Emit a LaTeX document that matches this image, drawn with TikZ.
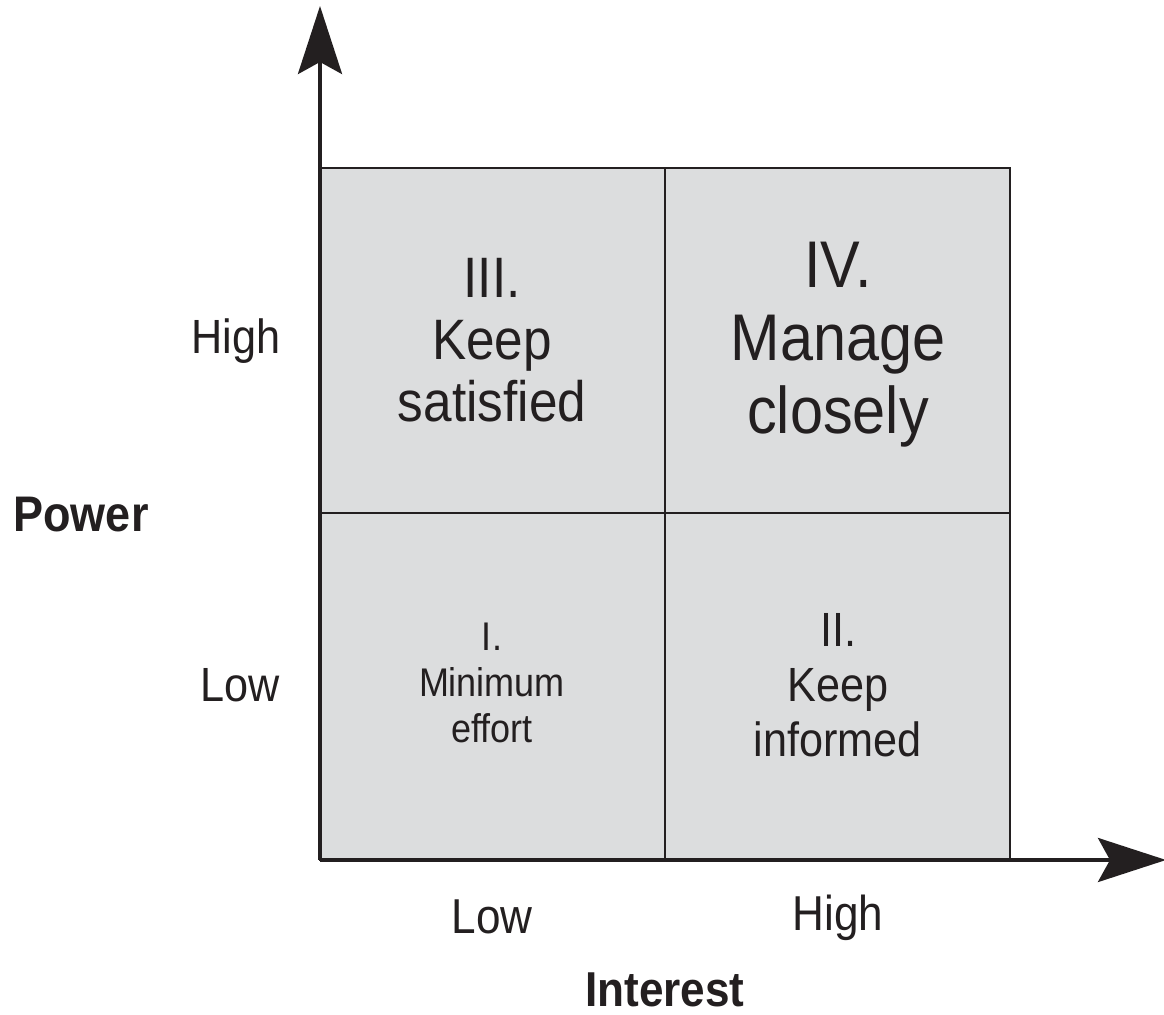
\documentclass[tikz,border=0pt]{standalone}
\usepackage{fontspec}
\setmainfont{Liberation Sans}[FakeStretch=0.9]
\usetikzlibrary{arrows.meta}
\definecolor{quad}{HTML}{DCDDDE}
\definecolor{ink}{HTML}{231F20}
\tikzset{
  cell/.style={draw=ink, line width=1.1pt, fill=quad},
  axis/.style={draw=ink, line width=1.9pt, -{Stealth[length=34pt,width=22pt,inset=6pt]}},
  lbl/.style={text=ink, inner sep=0pt, align=center},
}
\begin{document}
\begin{tikzpicture}[x=0.5pt,y=-0.5pt]
\useasboundingbox (0,0) rectangle (1164,1015);
\fill[white] (0,0) rectangle (1164,1015);
% cells
\draw[cell] (320,168) rectangle (665,513);
\draw[cell] (665,168) rectangle (1010,513);
\draw[cell] (320,513) rectangle (665,860);
\draw[cell] (665,513) rectangle (1010,860);
% axes
\coordinate (O) at (320,860);
\coordinate (ytip) at (320,6);
\coordinate (xtip) at (1166,860);
\draw[axis] (O) -- (ytip);
\draw[axis] (O) -- (xtip);
% quadrant texts
\node[lbl, font=\fontsize{28.5}{31}\selectfont] (q3) at (492,340) {III.\\Keep\\satisfied};
\node[lbl, font=\fontsize{33}{36.5}\selectfont] (q4) at (838,345) {IV.\\Manage\\closely};
\node[lbl, font=\fontsize{20}{23}\selectfont] (q1) at (492,683) {I.\\Minimum\\effort};
\node[lbl, font=\fontsize{24}{27.5}\selectfont] (q2) at (838,685) {II.\\Keep\\informed};
% axis labels
\node[lbl, font=\fontsize{24}{28}\selectfont] (yh) at (236,341) {High};
\node[lbl, font=\fontsize{24}{28}\selectfont] (yl) at (240,685) {Low};
\node[lbl, font=\fontsize{24.5}{28}\selectfont] (xl) at (492,917) {Low};
\node[lbl, font=\fontsize{24.5}{28}\selectfont] (xh) at (838,918) {High};
\node[lbl, font=\bfseries\fontsize{25}{28}\selectfont] (pw) at (81,515) {Power};
\node[lbl, font=\bfseries\fontsize{24.5}{28}\selectfont] (it) at (665,990) {Interest};
\end{tikzpicture}
\end{document}
